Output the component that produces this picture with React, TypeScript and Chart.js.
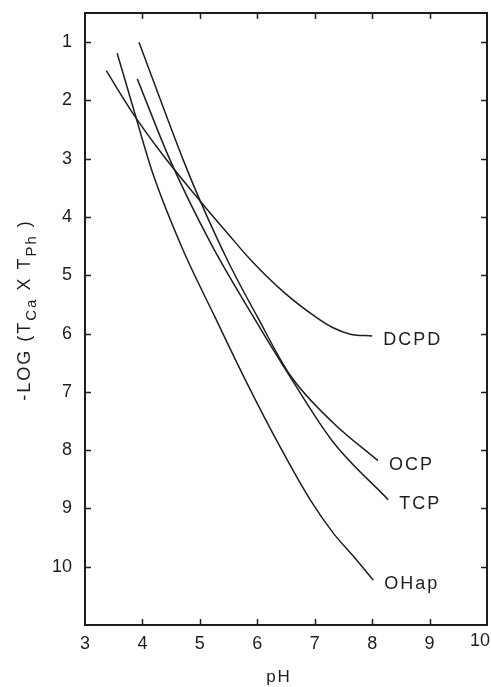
import React, { useEffect, useRef } from 'react';
import { Chart, registerables } from 'chart.js';

Chart.register(...registerables);

// axis ticks
const xTicks = [3, 4, 5, 6, 7, 8, 9, 10];
const yTicks = [1, 2, 3, 4, 5, 6, 7, 8, 9, 10];

// series (pH, -log(TCa x TPh))
const dcpdPH = [3.37, 3.84, 4.36, 5.0, 5.5, 5.87, 6.45, 7.04, 7.32, 7.62, 8.0];
const dcpdLog = [1.49, 2.23, 2.94, 3.72, 4.3, 4.72, 5.28, 5.73, 5.9, 6.01, 6.04];

const ocpPH = [3.94, 4.71, 5.0, 5.5, 6.0, 6.57, 7.32, 8.1];
const ocpLog = [1.0, 3.02, 3.71, 4.78, 5.71, 6.71, 7.53, 8.18];

const tcpPH = [3.91, 4.48, 5.2, 5.93, 6.57, 7.32, 8.28];
const tcpLog = [1.63, 3.02, 4.47, 5.71, 6.74, 7.86, 8.85];

const ohapPH = [3.56, 3.84, 4.18, 4.7, 5.26, 5.82, 6.4, 6.92, 7.32, 7.7, 8.02];
const ohapLog = [1.19, 2.13, 3.25, 4.55, 5.71, 6.85, 7.95, 8.85, 9.42, 9.85, 10.23];

const seriesNames = ['DCPD', 'OCP', 'TCP', 'OHap'];
const seriesPH = [dcpdPH, ocpPH, tcpPH, ohapPH];
const seriesLog = [dcpdLog, ocpLog, tcpLog, ohapLog];

const FONT = '"Liberation Sans", Arial, Helvetica, sans-serif';
const INK = '#1e1e1e';

const framePlugin = {
  id: 'frame',
  afterDraw(chart: any) {
    const { ctx, chartArea: a, scales } = chart;
    const x = scales.x;
    const y = scales.y;
    ctx.save();
    ctx.strokeStyle = INK;
    ctx.lineWidth = 2;
    ctx.strokeRect(a.left, a.top, a.right - a.left, a.bottom - a.top);

    // inward ticks
    ctx.lineWidth = 1.5;
    ctx.beginPath();
    for (const v of yTicks) {
      const py = Math.round(y.getPixelForValue(v)) + 0.5;
      ctx.moveTo(a.left, py);
      ctx.lineTo(a.left + 6, py);
      ctx.moveTo(a.right - 6, py);
      ctx.lineTo(a.right, py);
    }
    for (const v of xTicks) {
      if (v === xTicks[0] || v === xTicks[xTicks.length - 1]) continue;
      const px = Math.round(x.getPixelForValue(v)) + 0.5;
      ctx.moveTo(px, a.bottom);
      ctx.lineTo(px, a.bottom - 6);
      ctx.moveTo(px, a.top);
      ctx.lineTo(px, a.top + 6);
    }
    ctx.stroke();

    ctx.fillStyle = INK;
    // last x tick label, kept inside the picture
    ctx.font = `18px ${FONT}`;
    ctx.textAlign = 'right';
    ctx.textBaseline = 'middle';
    ctx.fillText(String(xTicks[xTicks.length - 1]), chart.width - 1, a.bottom + 16);

    // series labels at the end of each curve
    (ctx as any).letterSpacing = '2px';
    ctx.textAlign = 'left';
    seriesNames.forEach((name, i) => {
      const px = x.getPixelForValue(seriesPH[i][seriesPH[i].length - 1]);
      const py = y.getPixelForValue(seriesLog[i][seriesLog[i].length - 1]);
      ctx.fillText(name, px + 11, py + 4);
    });

    // x title
    ctx.font = `17px ${FONT}`;
    ctx.textAlign = 'center';
    ctx.fillText('pH', 279, chart.height - 10);

    // y title with subscripts
    const parts: [string, boolean][] = [
      ['-LOG (T', false],
      ['Ca', true],
      [' X T', false],
      ['Ph', true],
      [' )', false],
    ];
    const mainFont = `18px ${FONT}`;
    const subFont = `15px ${FONT}`;
    let total = 0;
    const widths = parts.map(([t, sub]) => {
      ctx.font = sub ? subFont : mainFont;
      const w = ctx.measureText(t).width;
      total += w;
      return w;
    });
    ctx.translate(30, (a.top + a.bottom) / 2 - 9);
    ctx.rotate(-Math.PI / 2);
    ctx.textAlign = 'left';
    ctx.textBaseline = 'alphabetic';
    let cx = -total / 2;
    parts.forEach(([t, sub], i) => {
      ctx.font = sub ? subFont : mainFont;
      ctx.fillText(t, cx, sub ? 6 : 0);
      cx += widths[i];
    });
    ctx.restore();
  },
};

export default function App() {
  const ref = useRef<HTMLCanvasElement>(null);

  useEffect(() => {
    if (!ref.current) return;
    const chart = new Chart(ref.current, {
      type: 'scatter',
      data: {
        datasets: seriesNames.map((name, i) => ({
          label: name,
          data: seriesPH[i].map((v, j) => ({ x: v, y: seriesLog[i][j] })),
          showLine: true,
          borderColor: INK,
          borderWidth: 1.5,
          pointRadius: 0,
          tension: 0,
          cubicInterpolationMode: 'monotone' as const,
          fill: false,
        })),
      },
      options: {
        animation: false,
        responsive: false,
        events: [],
        layout: { padding: { top: 13, right: 4, left: 0, bottom: 0 } },
        plugins: { legend: { display: false }, tooltip: { enabled: false } },
        scales: {
          x: {
            type: 'linear',
            min: 3,
            max: 10,
            afterBuildTicks: (s: any) => {
              s.ticks = xTicks.map((v) => ({ value: v }));
            },
            afterFit: (s: any) => {
              s.height = 62;
              s.paddingLeft = 0;
              s.paddingRight = 0;
            },
            grid: { display: false, drawTicks: false },
            border: { display: false },
            ticks: {
              padding: 8,
              color: (c: any) => (c.index === xTicks.length - 1 ? 'rgba(0,0,0,0)' : INK),
              font: { family: FONT, size: 18 },
              callback: (v: any) => String(v),
            },
          },
          y: {
            type: 'linear',
            reverse: true,
            min: 0.5,
            max: 11,
            afterBuildTicks: (s: any) => {
              s.ticks = yTicks.map((v) => ({ value: v }));
            },
            afterFit: (s: any) => {
              s.width = 85;
              s.paddingTop = 0;
              s.paddingBottom = 0;
            },
            grid: { display: false, drawTicks: false },
            border: { display: false },
            ticks: {
              padding: 13,
              color: INK,
              font: { family: FONT, size: 18 },
              callback: (v: any) => String(v),
            },
          },
        },
      },
      plugins: [framePlugin],
    });
    return () => chart.destroy();
  }, []);

  return (
    <div style={{ position: 'absolute', left: 0, top: 0, width: 491, height: 687, background: '#fff' }}>
      <canvas ref={ref} width={491} height={687} style={{ display: 'block' }} />
    </div>
  );
}
